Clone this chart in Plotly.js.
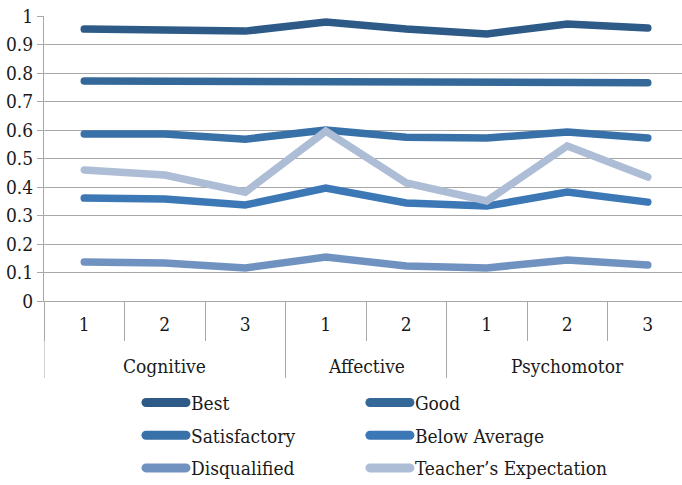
<!DOCTYPE html>
<html>
<head>
<meta charset="utf-8">
<script src="https://cdn.plot.ly/plotly-3.0.1.min.js"></script>
<style>
html, body { margin: 0; padding: 0; overflow: hidden; background: #fff; }
#chart { width: 682px; height: 485px; }
.js-line { stroke-linecap: round; }
.legendlines path { stroke-linecap: round; stroke-width: 9px !important; }
</style>
</head>
<body>
<div id="chart"></div>
<script>
// Category labels
var groups = ['Cognitive', 'Cognitive', 'Cognitive', 'Affective', 'Affective', 'Psychomotor', 'Psychomotor', 'Psychomotor'];
var subs = ['1', '2', '3', '1', '2', '1', '2', '3'];
var groupNames = ['Cognitive', 'Affective', 'Psychomotor'];

// Series values
var best = [0.954, 0.951, 0.947, 0.979, 0.954, 0.937, 0.972, 0.958];
var good = [0.772, 0.772, 0.768, 0.768, 0.766, 0.771, 0.768, 0.766];
var satisfactory = [0.586, 0.586, 0.568, 0.600, 0.575, 0.572, 0.593, 0.572];
var belowAverage = [0.361, 0.358, 0.337, 0.396, 0.344, 0.333, 0.382, 0.347];
var disqualified = [0.137, 0.133, 0.116, 0.154, 0.123, 0.116, 0.144, 0.126];
var teacherExpectation = [0.460, 0.442, 0.382, 0.596, 0.414, 0.351, 0.544, 0.435];

var seriesNames = ['Best', 'Good', 'Satisfactory', 'Below Average', 'Disqualified', 'Teacher\u2019s Expectation'];
var seriesValues = [best, good, satisfactory, belowAverage, disqualified, teacherExpectation];
var seriesColors = ['#2d5a87', '#346898', '#3870a8', '#3d78b6', '#7092c1', '#adbdd6'];
var seriesLegend = ['legend', 'legend2', 'legend', 'legend2', 'legend', 'legend2'];

var FONT = '"DejaVu Serif Condensed", "DejaVu Serif", serif';
var FS = 19;
var GRID = '#a8a8a8';
var TEXT = '#1a1a1a';

// unique category keys, one per (group, sub) pair
var catKeys = groups.map(function (g, i) { return g + ' ' + subs[i]; });

var traces = seriesNames.map(function (name, i) {
  return {
    type: 'scatter',
    mode: 'lines',
    name: name,
    x: catKeys,
    y: seriesValues[i],
    legend: seriesLegend[i],
    legendgroup: 'g' + i,
    line: { color: seriesColors[i], width: 7.5 },
    hoverinfo: 'skip'
  };
});

function legendAt(x) {
  return {
    orientation: 'v',
    x: x,
    xanchor: 'left',
    y: -0.290,
    yanchor: 'top',
    itemwidth: 40,
    tracegroupgap: 5,
    traceorder: 'grouped',
    font: { family: FONT, size: FS, color: TEXT },
    bgcolor: 'rgba(0,0,0,0)',
    borderwidth: 0
  };
}

// group label annotations and dividers, placed on the category axis
var annotations = [];
var shapes = [];
var start = 0;
groupNames.forEach(function (g) {
  var count = groups.filter(function (v) { return v === g; }).length;
  annotations.push({
    x: start + (count - 1) / 2, xref: 'x',
    y: -0.228, yref: 'paper',
    text: g, showarrow: false,
    xanchor: 'center', yanchor: 'middle',
    font: { family: FONT, size: FS, color: TEXT }
  });
  shapes.push({
    type: 'line', xref: 'x', yref: 'paper',
    x0: start - 0.5, x1: start - 0.5, y0: 0, y1: -0.27,
    line: { color: GRID, width: 1 }
  });
  start += count;
});
shapes.push({
  type: 'line', xref: 'x', yref: 'paper',
  x0: start - 0.5, x1: start - 0.5, y0: 0, y1: -0.27,
  line: { color: GRID, width: 1 }
});

var layout = {
  width: 682,
  height: 485,
  margin: { l: 44, r: 0, t: 16, b: 184, autoexpand: false },
  paper_bgcolor: '#ffffff',
  plot_bgcolor: '#ffffff',
  font: { family: FONT, size: FS, color: TEXT },
  showlegend: true,
  legend: legendAt(0.152),
  legend2: legendAt(0.503),
  annotations: annotations,
  shapes: shapes,
  xaxis: {
    type: 'category',
    automargin: false,
    range: [-0.5, 7.425],
    tickvals: catKeys,
    ticktext: subs,
    showgrid: false,
    showline: true,
    linecolor: GRID,
    linewidth: 1,
    ticks: 'outside',
    tickson: 'boundaries',
    ticklen: 39,
    tickcolor: GRID,
    ticklabelstandoff: 6,
    tickfont: { family: FONT, size: FS, color: TEXT },
    fixedrange: true
  },
  yaxis: {
    automargin: false,
    range: [0, 1],
    dtick: 0.1,
    tick0: 0,
    showgrid: true,
    gridcolor: GRID,
    gridwidth: 1,
    zeroline: false,
    showline: true,
    linecolor: GRID,
    ticks: 'outside',
    ticklen: 6,
    tickcolor: GRID,
    tickfont: { family: FONT, size: FS, color: TEXT },
    fixedrange: true
  }
};

Plotly.newPlot('chart', traces, layout, { displayModeBar: false, staticPlot: true });
</script>
</body>
</html>
